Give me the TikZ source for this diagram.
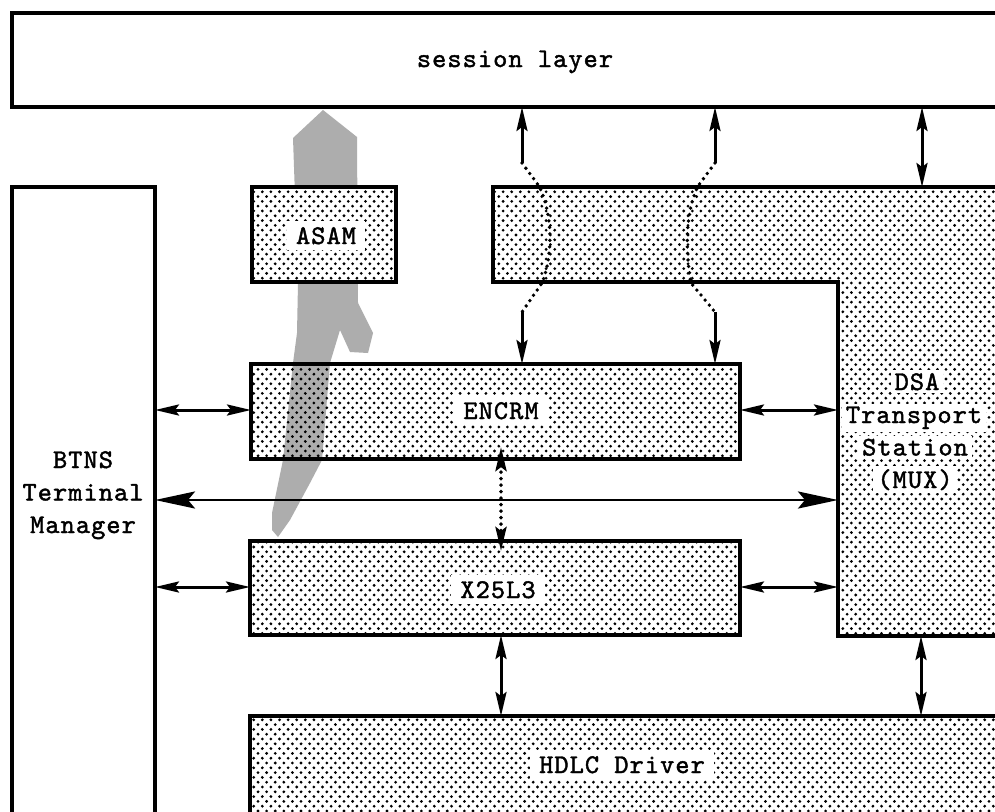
\documentclass[tikz,border=0pt]{standalone}
\usepackage{fontspec}
\newfontfamily\tw{lmmono10-regular.otf}[LetterSpace=4,FakeBold=1.6]
\usetikzlibrary{arrows.meta,patterns,calc}
\pgfdeclarepatternformonly{halftone}{\pgfqpoint{-1.8pt}{-1.8pt}}{\pgfqpoint{6.1pt}{6.6pt}}{\pgfqpoint{8.6pt}{9.6pt}}{%
  \pgfpathcircle{\pgfqpoint{0pt}{0pt}}{1.55pt}%
  \pgfpathcircle{\pgfqpoint{4.3pt}{4.8pt}}{1.55pt}%
  \pgfusepath{fill}}
\begin{document}
\begin{tikzpicture}[x=1pt,y=-1pt,
  box/.style={draw, line width=3.6pt, rectangle, inner sep=0pt, outer sep=0pt, anchor=north west},
  dotbox/.style={box, pattern=halftone},
  txt/.style={font=\tw\fontsize{27}{32}\selectfont, inner sep=0pt, anchor=base},
  lbl/.style={txt, fill=white, inner xsep=9pt, inner ysep=6pt},
  dsalbl/.style={txt, fill=white, inner xsep=4pt, inner ysep=3pt},
  tip/.tip={Stealth[length=24pt,width=11pt,inset=4pt]},
  bigtip/.tip={Stealth[length=40pt,width=17pt,inset=7pt]},
  arr/.style={line width=3pt, tip-tip},
  uparr/.style={line width=3pt, -tip},
  bigarr/.style={line width=2.8pt, bigtip-bigtip},
  dotline/.style={line width=3.8pt, line cap=round, dash pattern=on 0pt off 6.5pt},
  dotarr/.style={dotline, tip-tip},
  flow/.style={fill=black!32, draw=none}]
\useasboundingbox (0,0) rectangle (995,811);
\clip (0,0) rectangle (995,811);
\fill[white] (0,0) rectangle (995,811);

% grey flow arrow through ASAM
\path[flow] (323,110) -- (357,137) -- (358,303) -- (373,333) -- (368,353) -- (350,352)
  -- (340,330) -- (330,363) -- (322,460) -- (310,483) -- (290,520) -- (278,537)
  -- (272,530) -- (272,513) -- (283,460) -- (293,363) -- (297,333) -- (298,283)
  -- (293,138) -- cycle;

% boxes
\node[box, fill=white, minimum width=988pt, minimum height=94pt] (sess) at (12,13) {};
\node[box, fill=white, minimum width=143pt, minimum height=640pt] (btns) at (12,187) {};
\node[dotbox, preaction={fill=white}, minimum width=144pt, minimum height=95pt] (asam) at (252,187) {};
\node[dotbox, minimum width=489pt, minimum height=95pt] (encrm) at (251,364) {};
\node[dotbox, preaction={fill=white}, minimum width=490pt, minimum height=94pt] (x25) at (250,541) {};
\node[dotbox, preaction={fill=white}, minimum width=760pt, minimum height=110pt] (hdlc) at (250,716) {};
\draw[line width=3.6pt, preaction={fill=white}, pattern=halftone]
  (493,187) -- (1005,187) -- (1005,636) -- (838,636) -- (838,282) -- (493,282) -- cycle;
\coordinate (dsaN) at (0,187);
\coordinate (dsaW) at (838,0);
\coordinate (dsaS) at (0,636);

% labels
\node[txt] (tsess) at (515,67) {session layer};
\node[txt] (tb1) at (83,468) {BTNS};
\node[txt] (tb2) at (83,500.5) {Terminal};
\node[txt] (tb3) at (83,533) {Manager};
\node[lbl] (tasam) at (326,244) {ASAM};
\node[lbl] (tencrm) at (501,419) {ENCRM};
\node[lbl] (tx25) at (498,598) {X25L3};
\node[lbl] (thdlc) at (622,773) {HDLC Driver};
\node[dsalbl] (td1) at (917,390) {DSA};
\node[dsalbl] (td2) at (914,423) {Transport};
\node[dsalbl] (td3) at (915,455.5) {Station};
\node[dsalbl] (td4) at (915,488) {(MUX)};

% x positions and rows
\coordinate (la) at (522,163);
\coordinate (lb) at (522,312);
\coordinate (ra) at (715,163);
\coordinate (rb) at (715,312);
\coordinate (xd) at (922,0);
\coordinate (xh) at (921,0);
\coordinate (xm) at (501,0);
\coordinate (r1) at (0,410);
\coordinate (r2) at (0,500);
\coordinate (r3) at (0,587);

% session <-> transport crossing links
\draw[uparr] (la) -- (la |- sess.south);
\draw[dotline] (la) -- (539,186) .. controls (553,215) and (553,255) .. (542,283) -- (lb);
\draw[uparr] (lb) -- (lb |- encrm.north);
\draw[uparr] (ra) -- (ra |- sess.south);
\draw[dotline] (ra) -- (698,186) .. controls (684,215) and (686,255) .. (691,283) -- (rb);
\draw[uparr] (rb) -- (rb |- encrm.north);
\draw[arr] (sess.south -| xd) -- (dsaN -| xd);

% horizontal links
\draw[arr] (btns.east |- r1) -- (encrm.west |- r1);
\draw[arr] (encrm.east |- r1) -- (dsaW |- r1);
\draw[bigarr] (btns.east |- r2) -- (dsaW |- r2);
\draw[arr] (btns.east |- r3) -- (x25.west |- r3);
\draw[arr] (x25.east |- r3) -- (dsaW |- r3);

% vertical links
\draw[dotarr, shorten <=-12pt, shorten >=-10pt] (encrm.south -| xm) -- (x25.north -| xm);
\draw[arr] (x25.south -| xm) -- (hdlc.north -| xm);
\draw[arr] (dsaS -| xh) -- (hdlc.north -| xh);
\end{tikzpicture}
\end{document}
